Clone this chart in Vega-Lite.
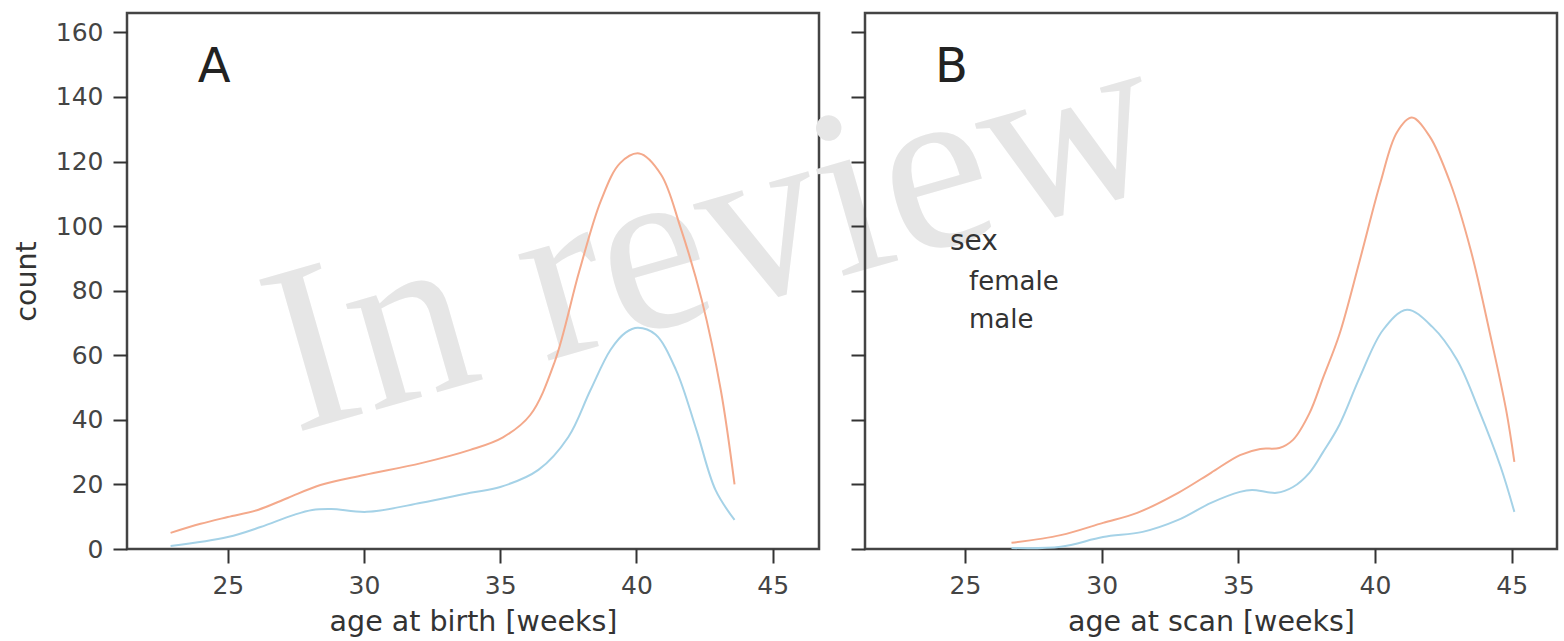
{
  "$schema": "https://vega.github.io/schema/vega-lite/v6.json",
  "bounds": "flush",
  "spacing": 46,
  "padding": {"left": 11, "top": -5, "right": 7, "bottom": 5},
  "config": {
    "font": "DejaVu Sans",
    "view": {"stroke": "#444", "strokeWidth": 2.5},
    "axis": {"grid": false, "domain": false, "tickColor": "#333", "tickWidth": 2, "tickSize": 14, "labelFontSize": 25, "labelColor": "#444", "labelPadding": 10, "titleFontSize": 28.5, "titleFontWeight": "normal", "titleColor": "#333"}
  },
  "datasets": {
    "birth": [
      {"age": 22.9, "sex": "female", "count": 5.0}, {"age": 24.0, "sex": "female", "count": 7.8}, {"age": 25.0, "sex": "female", "count": 9.9}, {"age": 26.1, "sex": "female", "count": 12.1}, {"age": 27.2, "sex": "female", "count": 15.8}, {"age": 28.4, "sex": "female", "count": 19.8}, {"age": 30.0, "sex": "female", "count": 22.9}, {"age": 32.1, "sex": "female", "count": 26.6}, {"age": 33.9, "sex": "female", "count": 30.7}, {"age": 35.1, "sex": "female", "count": 34.6}, {"age": 36.1, "sex": "female", "count": 41.5}, {"age": 37.0, "sex": "female", "count": 58}, {"age": 37.9, "sex": "female", "count": 86}, {"age": 38.7, "sex": "female", "count": 108}, {"age": 39.4, "sex": "female", "count": 119.5}, {"age": 40.1, "sex": "female", "count": 122.5}, {"age": 40.9, "sex": "female", "count": 116}, {"age": 41.6, "sex": "female", "count": 100}, {"age": 42.4, "sex": "female", "count": 77}, {"age": 43.1, "sex": "female", "count": 49}, {"age": 43.6, "sex": "female", "count": 20},
      {"age": 22.9, "sex": "male", "count": 0.9}, {"age": 25.0, "sex": "male", "count": 3.7}, {"age": 26.2, "sex": "male", "count": 6.8}, {"age": 27.4, "sex": "male", "count": 10.5}, {"age": 28.1, "sex": "male", "count": 12.1}, {"age": 28.8, "sex": "male", "count": 12.4}, {"age": 30.1, "sex": "male", "count": 11.5}, {"age": 32.1, "sex": "male", "count": 14.3}, {"age": 33.9, "sex": "male", "count": 17.4}, {"age": 35.0, "sex": "male", "count": 19.2}, {"age": 36.4, "sex": "male", "count": 24.5}, {"age": 37.5, "sex": "male", "count": 34.7}, {"age": 38.3, "sex": "male", "count": 49}, {"age": 39.05, "sex": "male", "count": 61.7}, {"age": 39.6, "sex": "male", "count": 67}, {"age": 40.05, "sex": "male", "count": 68.5}, {"age": 40.7, "sex": "male", "count": 66.4}, {"age": 41.45, "sex": "male", "count": 55.5}, {"age": 42.2, "sex": "male", "count": 36.9}, {"age": 42.9, "sex": "male", "count": 18.3}, {"age": 43.6, "sex": "male", "count": 9}
    ],
    "scan": [
      {"age": 26.7, "sex": "female", "count": 1.9}, {"age": 28.5, "sex": "female", "count": 4.3}, {"age": 30.05, "sex": "female", "count": 8.1}, {"age": 31.3, "sex": "female", "count": 11.2}, {"age": 32.8, "sex": "female", "count": 17.4}, {"age": 34.0, "sex": "female", "count": 23.6}, {"age": 35.06, "sex": "female", "count": 29.1}, {"age": 35.8, "sex": "female", "count": 31}, {"age": 36.5, "sex": "female", "count": 31.3}, {"age": 37.0, "sex": "female", "count": 33.8}, {"age": 37.6, "sex": "female", "count": 42}, {"age": 38.1, "sex": "female", "count": 53}, {"age": 38.7, "sex": "female", "count": 66.5}, {"age": 39.45, "sex": "female", "count": 89.6}, {"age": 40.2, "sex": "female", "count": 113.5}, {"age": 40.8, "sex": "female", "count": 129}, {"age": 41.35, "sex": "female", "count": 133.6}, {"age": 42.0, "sex": "female", "count": 127.8}, {"age": 42.75, "sex": "female", "count": 113.5}, {"age": 43.5, "sex": "female", "count": 92.7}, {"age": 44.2, "sex": "female", "count": 67}, {"age": 44.8, "sex": "female", "count": 43}, {"age": 45.1, "sex": "female", "count": 27},
      {"age": 26.7, "sex": "male", "count": 0.3}, {"age": 28.5, "sex": "male", "count": 0.7}, {"age": 30.05, "sex": "male", "count": 3.7}, {"age": 31.5, "sex": "male", "count": 5.3}, {"age": 32.8, "sex": "male", "count": 9}, {"age": 34.0, "sex": "male", "count": 14.3}, {"age": 35.06, "sex": "male", "count": 17.7}, {"age": 35.5, "sex": "male", "count": 18.3}, {"age": 36.4, "sex": "male", "count": 17.4}, {"age": 37.0, "sex": "male", "count": 19.2}, {"age": 37.6, "sex": "male", "count": 23.6}, {"age": 38.1, "sex": "male", "count": 30}, {"age": 38.7, "sex": "male", "count": 38.5}, {"age": 39.45, "sex": "male", "count": 53.3}, {"age": 40.3, "sex": "male", "count": 67.9}, {"age": 41.17, "sex": "male", "count": 74.1}, {"age": 42.1, "sex": "male", "count": 68.8}, {"age": 43.0, "sex": "male", "count": 58.6}, {"age": 43.8, "sex": "male", "count": 43.1}, {"age": 44.6, "sex": "male", "count": 25.4}, {"age": 45.1, "sex": "male", "count": 11.5}
    ],
    "watermark": [{"text": "In review"}],
    "labelA": [{"panel": "A"}],
    "labelB": [{"panel": "B"}]
  },
  "resolve": {"legend": {"color": "independent"}},
  "hconcat": [
    {
      "width": 692,
      "height": 536,
      "layer": [
        {
          "data": {"name": "watermark"},
          "mark": {"type": "text", "font": "Liberation Serif", "fontSize": 240, "angle": -16, "color": "#e6e6e6", "align": "center", "baseline": "alphabetic"},
          "encoding": {
            "x": {"datum": 43.54, "type": "quantitative", "scale": {"domain": [21.3, 46.7], "nice": false, "zero": false}},
            "y": {"datum": 74.8, "type": "quantitative"},
            "text": {"field": "text"}
          }
        },
        {
          "data": {"name": "birth"},
          "mark": {"type": "line", "strokeWidth": 2, "interpolate": "catmull-rom"},
          "encoding": {
            "x": {"field": "age", "type": "quantitative", "title": "age at birth [weeks]", "scale": {"domain": [21.3, 46.7], "nice": false, "zero": false}, "axis": {"values": [25, 30, 35, 40, 45], "titlePadding": 9}},
            "y": {"field": "count", "type": "quantitative", "title": "count", "scale": {"domain": [0, 166], "nice": false}, "axis": {"values": [0, 20, 40, 60, 80, 100, 120, 140, 160], "titlePadding": 14}},
            "color": {"field": "sex", "type": "nominal", "scale": {"domain": ["female", "male"], "range": ["#f4a98b", "#a5d2e7"]}, "legend": null}
          }
        },
        {
          "data": {"name": "labelA"},
          "mark": {"type": "text", "fontSize": 48, "color": "#222", "align": "center", "baseline": "middle"},
          "encoding": {
            "x": {"datum": 24.5, "type": "quantitative"},
            "y": {"datum": 149, "type": "quantitative"},
            "text": {"field": "panel"}
          }
        }
      ]
    },
    {
      "width": 692,
      "height": 536,
      "layer": [
        {
          "data": {"name": "scan"},
          "mark": {"type": "line", "strokeWidth": 2, "interpolate": "catmull-rom"},
          "encoding": {
            "x": {"field": "age", "type": "quantitative", "title": "age at scan [weeks]", "scale": {"domain": [21.34, 46.66], "nice": false, "zero": false}, "axis": {"values": [25, 30, 35, 40, 45], "titlePadding": 9}},
            "y": {"field": "count", "type": "quantitative", "title": null, "scale": {"domain": [0, 166], "nice": false}, "axis": {"values": [0, 20, 40, 60, 80, 100, 120, 140, 160], "labels": false}},
            "color": {"field": "sex", "type": "nominal", "scale": {"domain": ["female", "male"], "range": ["#f4a98b", "#a5d2e7"]},
              "legend": {"orient": "none", "legendX": 85, "legendY": 215, "title": "sex", "titleFontSize": 28, "titleFontWeight": "normal", "titleColor": "#333", "labelFontSize": 26, "labelColor": "#333", "symbolOpacity": 0, "symbolStrokeWidth": 0, "symbolSize": 16, "labelOffset": -7, "rowPadding": 12, "titlePadding": 13}}
          }
        },
        {
          "data": {"name": "labelB"},
          "mark": {"type": "text", "fontSize": 48, "color": "#222", "align": "center", "baseline": "middle"},
          "encoding": {
            "x": {"datum": 24.5, "type": "quantitative"},
            "y": {"datum": 149, "type": "quantitative"},
            "text": {"field": "panel"}
          }
        }
      ]
    }
  ]
}
